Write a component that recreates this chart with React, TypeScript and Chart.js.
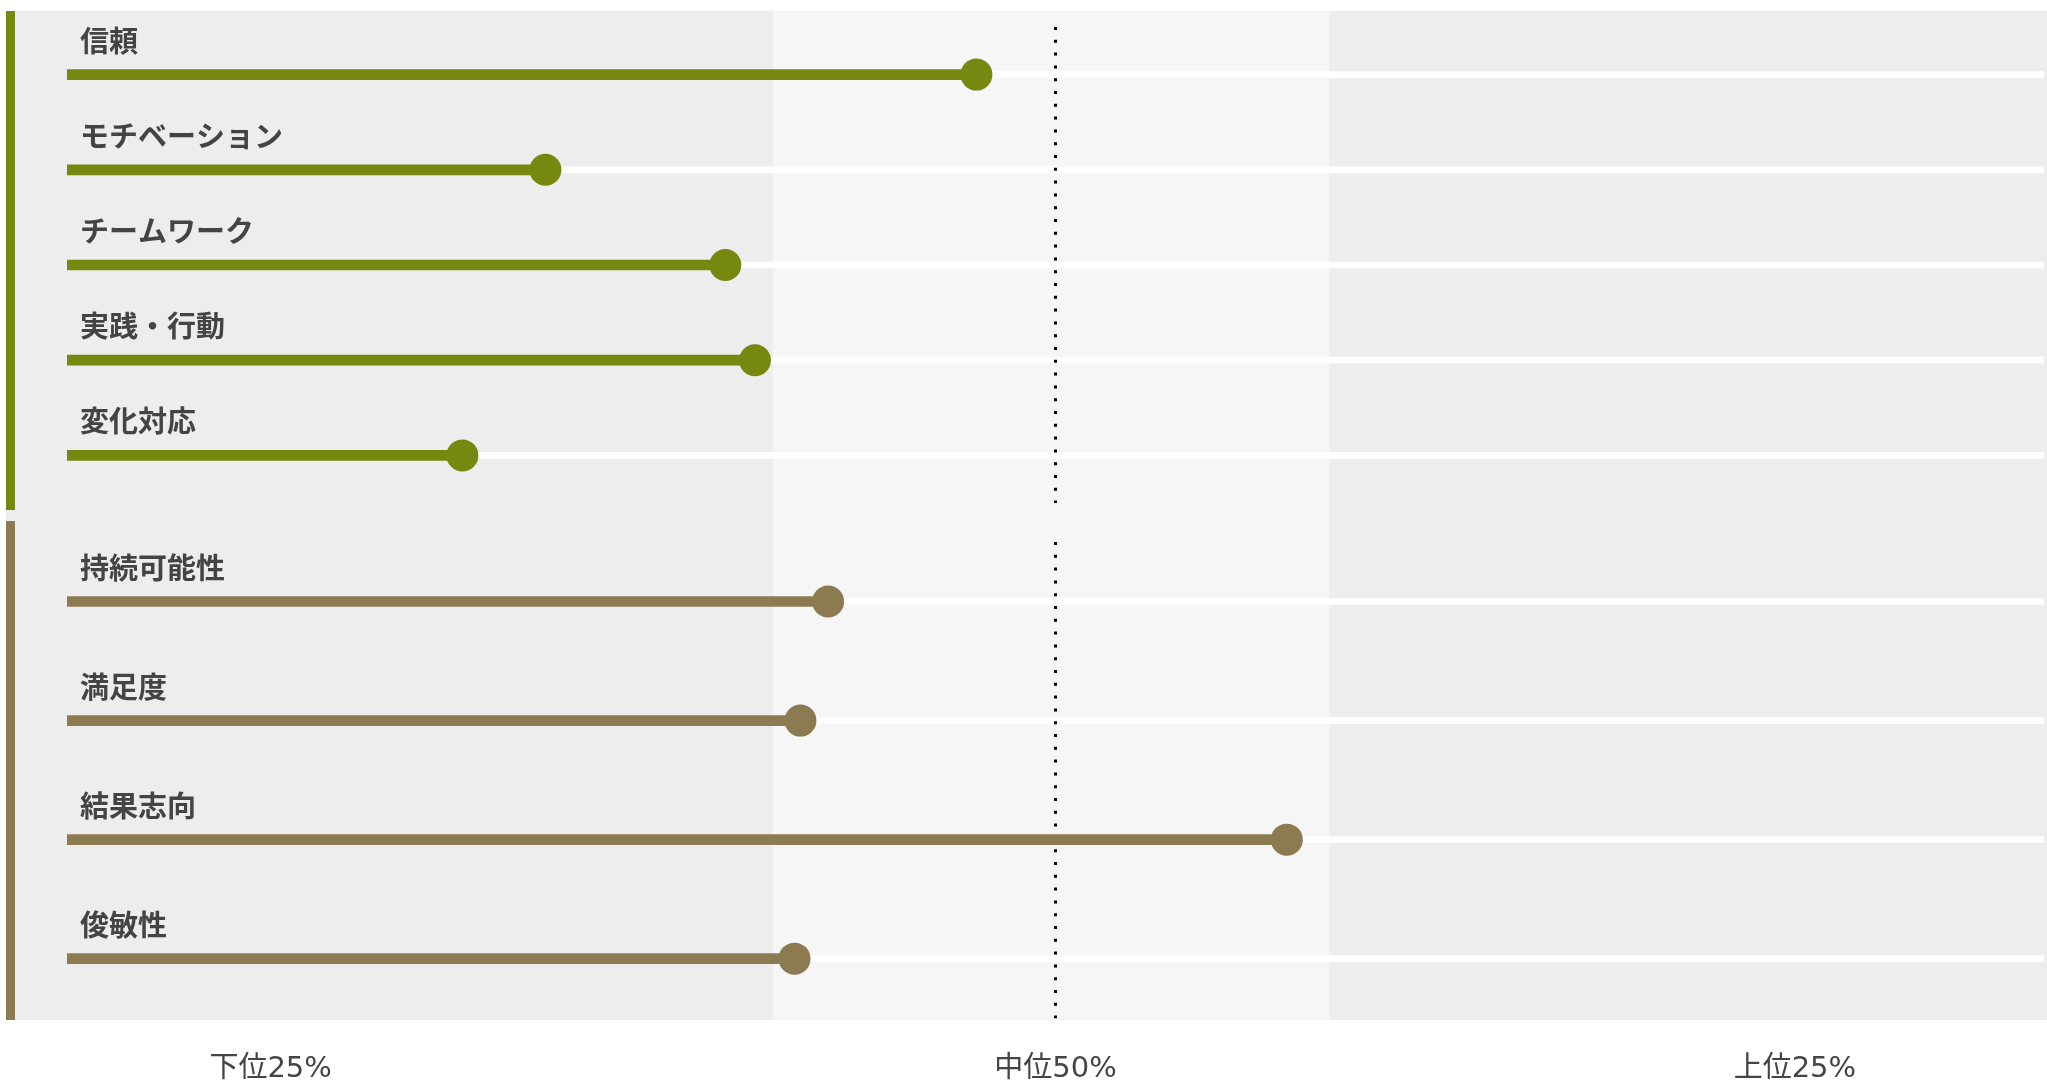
import React, { useEffect, useRef } from "react";
import { Chart, registerables } from "chart.js";

Chart.register(...registerables);

// ---- data ----
const groupACategories = ["信頼", "モチベーション", "チームワーク", "実践・行動", "変化対応"];
const groupAValues = [46.0, 24.2, 33.3, 34.8, 20.0];

const groupBCategories = ["持続可能性", "満足度", "結果志向", "俊敏性"];
const groupBValues = [38.5, 37.1, 61.7, 36.8];

const scaleMin = 0;
const scaleMax = 100;
const medianValue = 50;
const middleBand = [35.7, 63.85];

const tickValues = [10.3, 50, 87.4];
const tickLabels = ["下位25%", "中位50%", "上位25%"];

// ---- styles ----
const FONT = "'Noto Sans CJK JP', 'Noto Sans', sans-serif";
const AXIS_FONT = "'DejaVu Sans', 'Noto Sans CJK JP', sans-serif";
const GREEN = "#778810";
const BROWN = "#8c7a50";
const BG = "#ededed";
const BAND = "#f6f6f6";
const TEXT = "#444444";

type PanelProps = {
  categories: string[];
  values: number[];
  color: string;
  showAxis: boolean;
  top: number;
  height: number;
  padding: { left: number; right: number; top: number; bottom: number };
  bgHeight: number;
  accentHeight: number;
};

function LollipopPanel(props: PanelProps) {
  const ref = useRef<HTMLCanvasElement>(null);

  useEffect(() => {
    const canvas = ref.current;
    if (!canvas) return;
    const { categories, values, color, showAxis, padding, bgHeight, accentHeight } = props;

    const panelPlugin = {
      id: "panelDecor",
      beforeDraw(chart: any) {
        const { ctx, width } = chart;
        const x = chart.scales.x;
        ctx.save();
        ctx.fillStyle = BG;
        ctx.fillRect(6, 0, width - 6, bgHeight);
        const b0 = x.getPixelForValue(middleBand[0]);
        const b1 = x.getPixelForValue(middleBand[1]);
        ctx.fillStyle = BAND;
        ctx.fillRect(b0, 0, b1 - b0, bgHeight);
        ctx.fillStyle = color;
        ctx.fillRect(6, 0, 9, accentHeight);
        ctx.restore();
      },
      beforeDatasetDraw(chart: any, args: any) {
        if (args.index !== 1) return;
        const { ctx, chartArea } = chart;
        const mx = chart.scales.x.getPixelForValue(medianValue);
        ctx.save();
        ctx.beginPath();
        ctx.setLineDash([3, 9.8]);
        ctx.lineWidth = 3;
        ctx.strokeStyle = "#000000";
        ctx.moveTo(mx, chartArea.top);
        ctx.lineTo(mx, chartArea.bottom);
        ctx.stroke();
        ctx.restore();
      },
      afterDatasetsDraw(chart: any) {
        const { ctx } = chart;
        const y = chart.scales.y;
        ctx.save();
        ctx.fillStyle = TEXT;
        ctx.font = `bold 29px ${FONT}`;
        ctx.textAlign = "left";
        ctx.textBaseline = "middle";
        categories.forEach((c, i) => {
          ctx.fillText(c, 80, y.getPixelForValue(i) - 34);
        });
        ctx.restore();
      },
    };

    const chart = new Chart(canvas, {
      type: "bar",
      data: {
        labels: categories,
        datasets: [
          {
            type: "bar",
            label: "track",
            data: categories.map(() => scaleMax),
            backgroundColor: "#ffffff",
            borderWidth: 0,
            barThickness: 6,
            grouped: false,
            indexAxis: "y",
            order: 3,
          } as any,
          {
            type: "bar",
            label: "score",
            data: values,
            backgroundColor: color,
            borderWidth: 0,
            barThickness: 10,
            grouped: false,
            indexAxis: "y",
            order: 2,
          } as any,
          {
            type: "line",
            label: "dot",
            data: values,
            indexAxis: "y",
            showLine: false,
            pointRadius: 16,
            pointHoverRadius: 16,
            pointBackgroundColor: color,
            pointBorderColor: color,
            pointBorderWidth: 0,
            order: 1,
          } as any,
        ],
      },
      options: {
        indexAxis: "y",
        responsive: false,
        animation: false,
        events: [],
        layout: { padding, autoPadding: false },
        plugins: { legend: { display: false }, tooltip: { enabled: false } },
        scales: {
          x: {
            type: "linear",
            min: scaleMin,
            max: scaleMax,
            display: showAxis,
            position: "bottom",
            grid: { display: false, drawTicks: false },
            border: { display: false },
            afterBuildTicks: (s: any) => {
              s.ticks = tickValues.map((v) => ({ value: v }));
            },
            ticks: {
              autoSkip: false,
              maxRotation: 0,
              minRotation: 0,
              padding: 34,
              color: TEXT,
              font: { size: 29, family: AXIS_FONT },
              callback: (_v: any, i: number) => tickLabels[i],
            },
          },
          y: {
            type: "category",
            display: false,
            offset: true,
            grid: { display: false },
          },
        },
      } as any,
      plugins: [panelPlugin],
    });

    return () => chart.destroy();
  }, []);

  return (
    <div style={{ position: "absolute", left: 0, top: props.top, width: 2047, height: props.height }}>
      <canvas ref={ref} width={2047} height={props.height} style={{ display: "block" }} />
    </div>
  );
}

export default function App() {
  return (
    <div
      style={{
        position: "fixed",
        left: 0,
        top: 0,
        width: 2047,
        height: 1083,
        overflow: "hidden",
        background: "#ffffff",
      }}
    >
      <LollipopPanel
        categories={groupACategories}
        values={groupAValues}
        color={GREEN}
        showAxis={false}
        top={11}
        height={510}
        padding={{ left: 67, right: 3, top: 16, bottom: 18 }}
        bgHeight={510}
        accentHeight={499}
      />
      <LollipopPanel
        categories={groupBCategories}
        values={groupBValues}
        color={BROWN}
        showAxis={true}
        top={521}
        height={604}
        padding={{ left: 67, right: 3, top: 21, bottom: 4 }}
        bgHeight={499}
        accentHeight={499}
      />
    </div>
  );
}
